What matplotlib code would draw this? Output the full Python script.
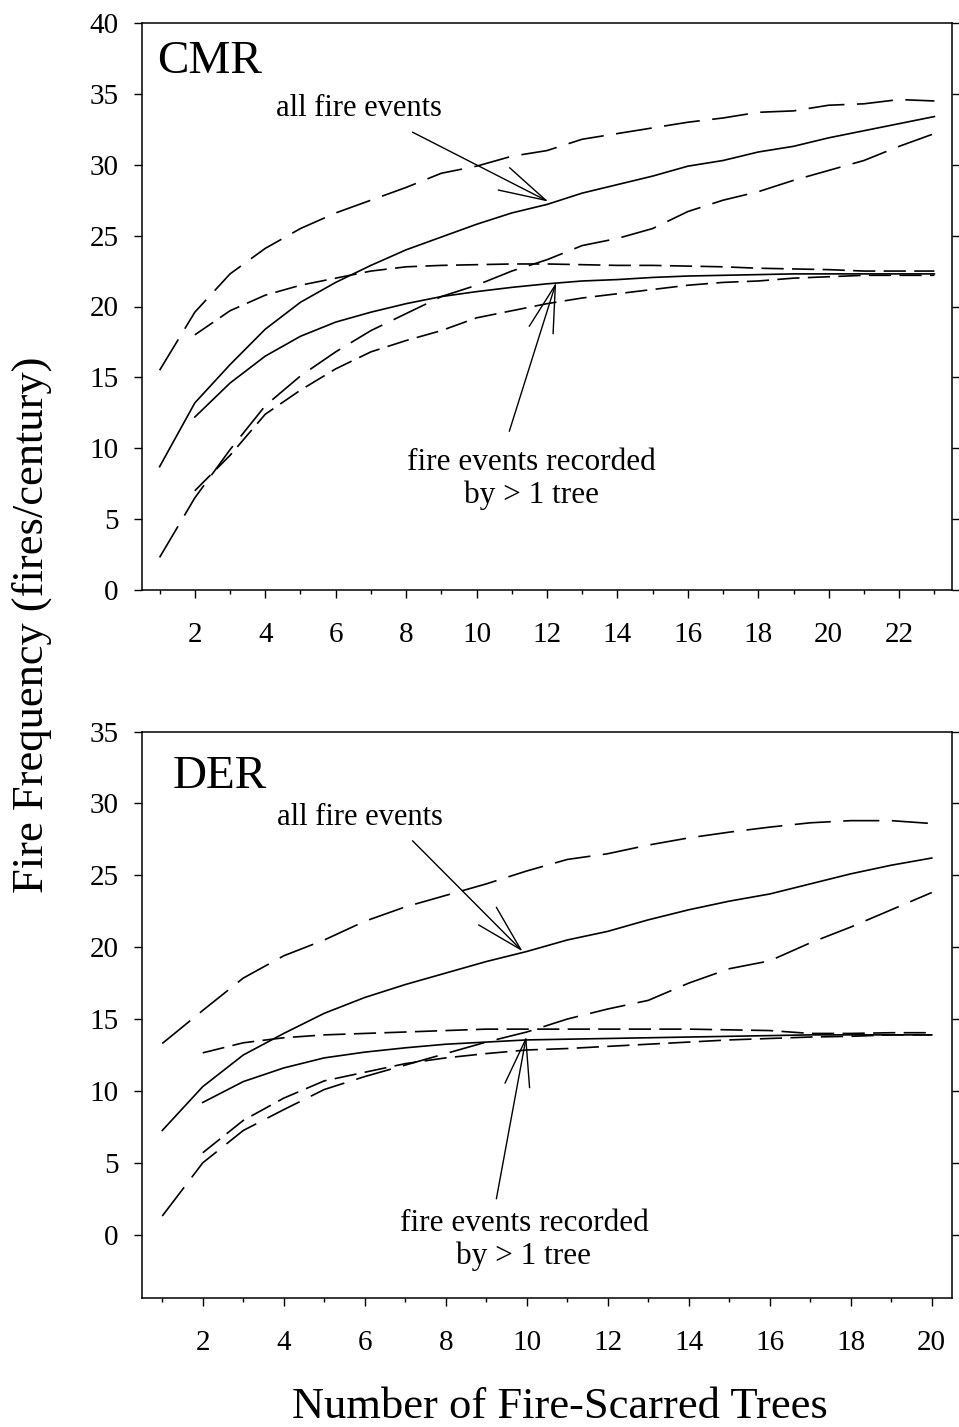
import matplotlib
matplotlib.use("Agg")
import matplotlib.pyplot as plt
from matplotlib.ticker import MultipleLocator
import numpy as np

# ---------------- data ----------------
cmr_x = list(range(1, 24))
cmr_all_upper = [15.5, 19.6, 22.3, 24.1, 25.5, 26.6, 27.5, 28.4, 29.4, 29.9, 30.6, 31.0,
                 31.8, 32.2, 32.6, 33.0, 33.3, 33.7, 33.8, 34.2, 34.3, 34.6, 34.5]
cmr_all_mean = [8.7, 13.2, 15.9, 18.4, 20.3, 21.7, 22.9, 24.0, 24.9, 25.8, 26.6, 27.2,
                28.0, 28.6, 29.2, 29.9, 30.3, 30.9, 31.3, 31.9, 32.4, 32.9, 33.4]
cmr_all_lower = [2.3, 6.5, 9.9, 13.0, 15.1, 16.8, 18.3, 19.5, 20.7, 21.5, 22.5, 23.3,
                 24.3, 24.8, 25.5, 26.7, 27.5, 28.1, 28.9, 29.6, 30.3, 31.3, 32.2]
cmr_gt1_x = list(range(2, 24))
cmr_gt1_upper = [18.0, 19.7, 20.8, 21.5, 22.0, 22.5, 22.8, 22.9, 22.95, 23.0, 23.0,
                 22.95, 22.9, 22.9, 22.85, 22.8, 22.7, 22.65, 22.6, 22.5, 22.5, 22.5]
cmr_gt1_mean = [12.2, 14.6, 16.5, 17.9, 18.9, 19.6, 20.2, 20.7, 21.05, 21.35, 21.6,
                21.8, 21.9, 22.05, 22.15, 22.2, 22.25, 22.3, 22.3, 22.3, 22.3, 22.3]
cmr_gt1_lower = [7.0, 9.5, 12.4, 14.1, 15.6, 16.8, 17.6, 18.3, 19.2, 19.7, 20.2,
                 20.6, 20.9, 21.2, 21.5, 21.7, 21.8, 22.0, 22.1, 22.2, 22.2, 22.2]

der_x = list(range(1, 21))
der_all_upper = [13.3, 15.6, 17.85, 19.4, 20.5, 21.8, 22.8, 23.6, 24.4, 25.3,
                 26.1, 26.5, 27.1, 27.6, 28.0, 28.35, 28.65, 28.8, 28.8, 28.6]
der_all_mean = [7.25, 10.3, 12.5, 14.0, 15.4, 16.5, 17.4, 18.2, 19.0, 19.7,
                20.5, 21.1, 21.9, 22.6, 23.2, 23.7, 24.4, 25.1, 25.7, 26.2]
der_all_lower = [1.3, 5.0, 7.25, 8.7, 10.1, 11.0, 11.8, 12.6, 13.4, 14.1,
                 15.0, 15.7, 16.3, 17.5, 18.5, 19.05, 20.3, 21.4, 22.6, 23.8]
der_gt1_x = list(range(2, 21))
der_gt1_upper = [12.65, 13.35, 13.7, 13.9, 14.0, 14.1, 14.2, 14.3, 14.3, 14.3,
                 14.3, 14.3, 14.3, 14.25, 14.2, 14.0, 14.0, 14.05, 14.05]
der_gt1_mean = [9.2, 10.65, 11.6, 12.3, 12.7, 13.0, 13.25, 13.4, 13.55, 13.6,
                13.65, 13.7, 13.75, 13.8, 13.85, 13.9, 13.9, 13.9, 13.9]
der_gt1_lower = [5.7, 7.95, 9.5, 10.7, 11.3, 11.9, 12.3, 12.6, 12.85, 12.95,
                 13.1, 13.25, 13.4, 13.55, 13.65, 13.75, 13.8, 13.9, 13.9]

# ---------------- style ----------------
plt.rcParams['font.family'] = ['Liberation Serif', 'DejaVu Serif']
plt.rcParams['lines.scale_dashes'] = False
plt.rcParams['axes.linewidth'] = 1.1

LONG = (0, (26, 9))
SHORT = (0, (16, 6))
LW = 1.2

fig = plt.figure(figsize=(9.59, 14.27), dpi=100)
ax1 = fig.add_axes([142/959, 1 - 590/1427, 810/959, 567/1427])
ax2 = fig.add_axes([142/959, 1 - 1298/1427, 810/959, 566.5/1427])

arrow_kw = dict(arrowstyle='->,head_length=3.4,head_width=0.9', mutation_scale=10,
                lw=1.0, color='black', shrinkA=0, shrinkB=0)


def style_axes(ax, xlim, ylim):
    ax.set_xlim(*xlim)
    ax.set_ylim(*ylim)
    ax.xaxis.set_major_locator(MultipleLocator(2))
    ax.xaxis.set_minor_locator(MultipleLocator(1))
    ax.yaxis.set_major_locator(MultipleLocator(5))
    ax.tick_params(axis='y', which='major', direction='out', left=True, right=True,
                   labelright=False, length=6, width=1.0, labelsize=21, pad=11)
    ax.tick_params(axis='x', which='major', direction='out', top=False,
                   length=6, width=1.0, labelsize=21, pad=17)
    ax.tick_params(axis='x', which='minor', direction='out', top=False,
                   length=3, width=1.0)
    ax.tick_params(axis='y', which='minor', left=False, right=False)


def draw_panel(ax, x, a_up, a_mean, a_low, gx, g_up, g_mean, g_low):
    ax.plot(x, a_up, color='black', lw=LW, linestyle=LONG)
    ax.plot(x, a_mean, color='black', lw=LW, linestyle='-')
    ax.plot(x, a_low, color='black', lw=LW, linestyle=LONG)
    ax.plot(gx, g_up, color='black', lw=LW, linestyle=SHORT)
    ax.plot(gx, g_mean, color='black', lw=LW, linestyle='-')
    ax.plot(gx, g_low, color='black', lw=LW, linestyle=SHORT)


# ---- CMR panel ----
draw_panel(ax1, cmr_x, cmr_all_upper, cmr_all_mean, cmr_all_lower,
           cmr_gt1_x, cmr_gt1_upper, cmr_gt1_mean, cmr_gt1_lower)
style_axes(ax1, (0.5, 23.5), (0, 40))
ax1.text(0.92, 36.5, 'CMR', fontsize=34, ha='left', va='baseline')
ax1.text(6.67, 34.0, 'all fire events', fontsize=22, ha='center', va='center')
ax1.annotate('', xy=(12.04, 27.4), xytext=(8.18, 32.3), arrowprops=arrow_kw)
ax1.text(11.55, 7.8, 'fire events recorded\nby > 1 tree', fontsize=22.5,
         ha='center', va='center', linespacing=1.15)
ax1.annotate('', xy=(12.26, 21.7), xytext=(10.93, 11.2), arrowprops=arrow_kw)

# ---- DER panel ----
draw_panel(ax2, der_x, der_all_upper, der_all_mean, der_all_lower,
           der_gt1_x, der_gt1_upper, der_gt1_mean, der_gt1_lower)
style_axes(ax2, (0.5, 20.5), (-4.4, 35))
ax2.text(1.25, 31.1, 'DER', fontsize=34, ha='left', va='baseline')
ax2.text(5.87, 29.0, 'all fire events', fontsize=22, ha='center', va='center')
ax2.annotate('', xy=(9.9, 19.7), xytext=(7.18, 27.4), arrowprops=arrow_kw)
ax2.text(9.93, -0.35, 'fire events recorded\nby > 1 tree', fontsize=22.5,
         ha='center', va='center', linespacing=1.15)
ax2.annotate('', xy=(9.99, 13.8), xytext=(9.25, 2.5), arrowprops=arrow_kw)

# ---- shared labels ----
fig.text(0.033, 1 - 625/1427, 'Fire Frequency (fires/century)', fontsize=32,
         rotation=90, ha='center', va='center')
fig.text(0.584, 1 - 1418/1427, 'Number of Fire-Scarred Trees', fontsize=32,
         ha='center', va='baseline')

fig.savefig('out.png', dpi=100)
